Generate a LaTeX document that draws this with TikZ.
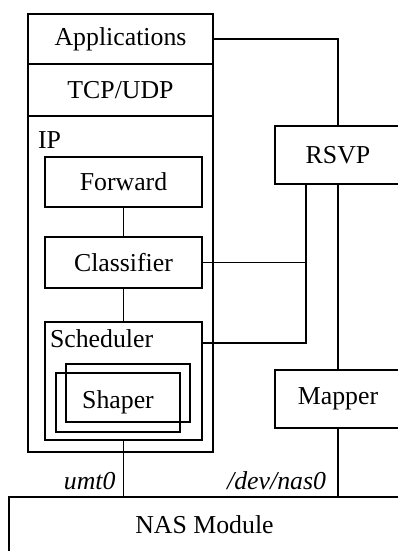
\documentclass[tikz,border=0pt]{standalone}
\usepackage{fontspec}
\setmainfont{Liberation Serif}
\usetikzlibrary{positioning}

\begin{document}
\begin{tikzpicture}[x=1pt,y=-1pt,line width=1.4pt,
  every node/.style={font=\fontsize{25.8}{30}\selectfont},
  box/.style={draw,rectangle,inner sep=0pt,outer sep=0pt},
  tag/.style={inner sep=0pt,outer sep=0pt},
  ifname/.style={tag,font=\fontsize{25.8}{30}\selectfont\itshape}]
  \clip (0,0) rectangle (398,551);
  % protocol stack
  \node[box,minimum width=185pt,minimum height=50pt] (app) at (120.5,39) {Applications};
  \node[box,minimum width=185pt,minimum height=52pt,below=0pt of app] (tcp) {TCP/UDP};
  \node[box,minimum width=185pt,minimum height=336pt,below=0pt of tcp] (ip) {};
  \node[tag,anchor=base west] (iptag) at (38,148) {IP};
  % inside IP
  \node[box,minimum width=157pt,minimum height=50pt] (fwd) at (123.5,182) {Forward};
  \node[box,minimum width=157pt,minimum height=51pt] (cls) at (123.5,262.5) {Classifier};
  \node[box,minimum width=157pt,minimum height=118pt] (sched) at (123.5,381) {};
  \node[tag,anchor=base west] (schedtag) at (50,347) {Scheduler};
  \node[box,minimum width=124pt,minimum height=58pt] (shaperb) at (128,393) {};
  \node[box,minimum width=124pt,minimum height=59pt] (shaper) at (118,402.5) {Shaper};
  % control side
  \node[box,minimum width=126pt,minimum height=58pt] (rsvp) at (338,155) {RSVP};
  \node[box,minimum width=126pt,minimum height=58pt] (mapper) at (338,399) {Mapper};
  \node[box,minimum width=391pt,minimum height=56pt] (nas) at (204.5,525) {NAS Module};
  \coordinate (rsvpl) at ([xshift=-32pt]rsvp.south);
  \coordinate (schedr) at ([yshift=-21pt]sched.north east);
  % connectors
  \draw (app.east) -| (rsvp.north);
  \draw (fwd.south) -- (cls.north);
  \draw (cls.south) -- (sched.north);
  \draw (cls.east) -| (rsvpl);
  \draw (rsvpl) |- (schedr);
  \draw (rsvp.south) -- (mapper.north);
  \draw (sched.south) -- (sched.south |- nas.north) coordinate (umt);
  \draw (mapper.south) -- (mapper.south |- nas.north) coordinate (dev);
  \node[ifname,anchor=south east] (umttag) at ([xshift=-8pt,yshift=7pt]umt) {umt0};
  \node[ifname,anchor=south east] (devtag) at ([xshift=-12pt,yshift=7pt]dev) {/dev/nas0};
\end{tikzpicture}
\end{document}
